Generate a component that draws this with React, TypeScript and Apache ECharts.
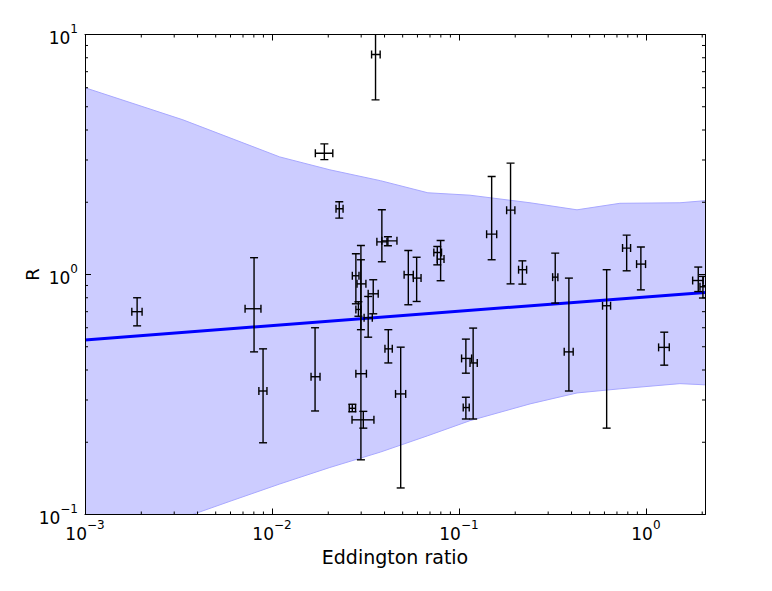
import React, { useEffect, useRef } from "react";
import * as echarts from "echarts";

// ---- data ----
const eddX = [0.0019, 0.00802, 0.00896, 0.017, 0.01906, 0.0229, 0.0358, 0.0281, 0.0299, 0.029, 0.0299, 0.0308, 0.0269, 0.0348, 0.0327, 0.0387, 0.0417, 0.0419, 0.0488, 0.0536, 0.0594, 0.0766, 0.0798, 0.1089, 0.1089, 0.1191, 0.1496, 0.1888, 0.2184, 0.3273, 0.3873, 0.6166, 0.7889, 0.9397, 1.253, 1.905, 2.018];
const eddXLo = [0.00178, 0.00718, 0.00851, 0.01618, 0.01706, 0.022, 0.0341, 0.0269, 0.0285, 0.0281, 0.0281, 0.0268, 0.0259, 0.0327, 0.0311, 0.0364, 0.0387, 0.0402, 0.0458, 0.0509, 0.057, 0.0734, 0.0766, 0.1033, 0.1054, 0.1146, 0.1406, 0.1799, 0.2084, 0.317, 0.3656, 0.5861, 0.7499, 0.8913, 1.169, 1.778, 1.946];
const eddXHi = [0.00202, 0.00873, 0.0094, 0.01807, 0.02115, 0.024, 0.0379, 0.0292, 0.0318, 0.0299, 0.032, 0.0351, 0.028, 0.037, 0.0344, 0.0412, 0.0466, 0.044, 0.0519, 0.057, 0.0627, 0.0807, 0.0832, 0.1169, 0.1135, 0.1253, 0.1592, 0.1991, 0.2301, 0.3381, 0.4083, 0.6471, 0.8279, 0.9954, 1.333, 2.024, 2.094];
const rVal = [0.7, 0.72, 0.327, 0.375, 3.2, 1.879, 8.25, 0.988, 0.914, 0.715, 0.386, 0.248, 0.277, 0.831, 0.66, 1.368, 1.381, 0.49, 0.318, 0.998, 0.966, 1.235, 1.159, 0.447, 0.279, 0.428, 1.473, 1.854, 1.047, 0.975, 0.476, 0.741, 1.288, 1.105, 0.497, 0.944, 0.889];
const rLo = [0.611, 0.476, 0.199, 0.27, 3.01, 1.718, 5.34, 0.755, 0.589, 0.67, 0.169, 0.229, 0.268, 0.686, 0.548, 1.13, 1.318, 0.428, 0.129, 0.748, 0.772, 1.097, 0.942, 0.388, 0.25, 0.25, 1.152, 0.914, 0.912, 0.76, 0.327, 0.229, 1.036, 0.863, 0.419, 0.849, 0.798];
const rHi = [0.8, 1.175, 0.49, 0.6, 3.5, 2.01, 12, 1.22, 1.152, 0.77, 1.32, 0.269, 0.288, 0.951, 0.81, 1.86, 1.436, 0.589, 0.498, 1.259, 1.18, 1.309, 1.386, 0.538, 0.308, 0.598, 2.56, 2.91, 1.14, 1.228, 0.966, 1.047, 1.459, 1.301, 0.575, 1.074, 0.982];

const bandX = [0.001, 0.00334, 0.00596, 0.011, 0.0204, 0.038, 0.0682, 0.1145, 0.24, 0.428, 0.726, 1.52, 2.07];
const bandUpper = [6.0, 4.41, 3.71, 3.09, 2.73, 2.46, 2.19, 2.14, 1.99, 1.86, 1.98, 1.99, 2.03];
const bandLower = [0.0706, 0.0968, 0.1135, 0.134, 0.157, 0.182, 0.213, 0.246, 0.289, 0.321, 0.334, 0.351, 0.347];

const fitX = [0.001, 2.07];
const fitR = [0.534, 0.842];

const xMin = 0.001;
const xMax = 2.07;
const yMin = 0.1;
const yMax = 10;

const xMinorTicks = [0.002, 0.003, 0.004, 0.005, 0.006, 0.007, 0.008, 0.009, 0.02, 0.03, 0.04, 0.05, 0.06, 0.07, 0.08, 0.09, 0.2, 0.3, 0.4, 0.5, 0.6, 0.7, 0.8, 0.9, 2];
const yMinorTicks = [0.2, 0.3, 0.4, 0.5, 0.6, 0.7, 0.8, 0.9, 2, 3, 4, 5, 6, 7, 8, 9];

const xTitle = "Eddington ratio";
const yTitle = "R";

const FONT = "DejaVu Sans";

function decadeLabel(value: number): string {
  const lg = Math.log10(value);
  const e = Math.round(lg);
  if (Math.abs(lg - e) > 1e-6) return "";
  const s = e < 0 ? "\u2212" + Math.abs(e) : String(e);
  return "{b|10}{s|" + s + "}";
}

const rich = {
  b: { fontSize: 17, lineHeight: 24, verticalAlign: "bottom", fontFamily: FONT, color: "#000" },
  s: { fontSize: 12, lineHeight: 24, verticalAlign: "top", fontFamily: FONT, color: "#000" },
};

export default function App() {
  const ref = useRef<HTMLDivElement>(null);
  useEffect(() => {
    document.body.style.margin = "0";
    if (!ref.current) return;
    const chart = echarts.init(ref.current, null, { renderer: "svg" });

    const errData = eddX.map((x, i) => [x, rVal[i], eddXLo[i], eddXHi[i], rLo[i], rHi[i]]);
    const seg = (x1: number, y1: number, x2: number, y2: number, style: any) => ({
      type: "line",
      shape: { x1, y1, x2, y2 },
      style,
    });

    const axisCommon = {
      type: "log",
      logBase: 10,
      z: 10,
      axisLine: { show: true, onZero: false, lineStyle: { color: "#000", width: 1 } },
      axisTick: { show: true, inside: true, length: 6, lineStyle: { color: "#000", width: 1 } },
      splitLine: { show: false },
      minorTick: { show: false },
      minorSplitLine: { show: false },
    };

    const option: any = {
      animation: false,
      backgroundColor: "#ffffff",
      textStyle: { fontFamily: FONT },
      grid: { left: 85, right: 67, top: 34.5, bottom: 76.5 },
      xAxis: [
        {
          ...axisCommon,
          min: xMin,
          max: xMax,
          position: "bottom",
          name: xTitle,
          nameLocation: "middle",
          nameGap: 33,
          nameMoveOverlap: false,
          nameTextStyle: { fontSize: 19, color: "#000", fontFamily: FONT },
          axisLabel: { show: true, margin: 4, formatter: decadeLabel, rich, showMinLabel: true, showMaxLabel: true },
        },
        {
          ...axisCommon,
          min: xMin,
          max: xMax,
          position: "top",
          axisLabel: { show: false },
        },
      ],
      yAxis: [
        {
          ...axisCommon,
          min: yMin,
          max: yMax,
          position: "left",
          name: yTitle,
          nameLocation: "middle",
          nameGap: 44,
          nameMoveOverlap: false,
          nameTextStyle: { fontSize: 18, color: "#000", fontFamily: FONT },
          axisLabel: { show: true, margin: 7, formatter: decadeLabel, rich },
        },
        {
          ...axisCommon,
          min: yMin,
          max: yMax,
          position: "right",
          axisLabel: { show: false },
        },
      ],
      series: [
        {
          type: "line",
          xAxisIndex: 0,
          yAxisIndex: 0,
          data: bandX.map((x, i) => [x, bandUpper[i]]),
          symbol: "none",
          silent: true,
          clip: true,
          z: 1,
          lineStyle: { color: "#a8a8ff", width: 1 },
          areaStyle: { color: "#ccccff", opacity: 1, origin: "start" },
        },
        {
          type: "line",
          xAxisIndex: 0,
          yAxisIndex: 0,
          data: bandX.map((x, i) => [x, bandLower[i]]),
          symbol: "none",
          silent: true,
          clip: true,
          z: 2,
          lineStyle: { color: "#a8a8ff", width: 1 },
          areaStyle: { color: "#ffffff", opacity: 1, origin: "start" },
        },
        {
          type: "line",
          xAxisIndex: 0,
          yAxisIndex: 0,
          data: fitX.map((x, i) => [x, fitR[i]]),
          symbol: "none",
          silent: true,
          clip: true,
          z: 3,
          lineStyle: { color: "#0000ff", width: 3 },
        },
        {
          type: "custom",
          xAxisIndex: 0,
          yAxisIndex: 0,
          data: errData,
          encode: { x: 0, y: 1 },
          clip: true,
          silent: true,
          z: 4,
          renderItem: (params: any, api: any) => {
            const x = api.value(0);
            const y = api.value(1);
            const c = api.coord([x, y]);
            const l = api.coord([api.value(2), y]);
            const r = api.coord([api.value(3), y]);
            const b = api.coord([x, api.value(4)]);
            const t = api.coord([x, api.value(5)]);
            const cap = 4;
            const st = { stroke: "#000", lineWidth: 1.4 };
            return {
              type: "group",
              children: [
                seg(l[0], c[1], r[0], c[1], st),
                seg(l[0], c[1] - cap, l[0], c[1] + cap, st),
                seg(r[0], c[1] - cap, r[0], c[1] + cap, st),
                seg(c[0], t[1], c[0], b[1], st),
                seg(c[0] - cap, t[1], c[0] + cap, t[1], st),
                seg(c[0] - cap, b[1], c[0] + cap, b[1], st),
              ],
            };
          },
        },
        {
          type: "custom",
          xAxisIndex: 0,
          yAxisIndex: 0,
          data: xMinorTicks.map((v) => [v, 1]),
          encode: { x: 0, y: 1 },
          silent: true,
          z: 10,
          renderItem: (params: any, api: any) => {
            const p = api.coord([api.value(0), 1]);
            const cs = params.coordSys;
            const bottom = cs.y + cs.height;
            const top = cs.y;
            const st = { stroke: "#000", lineWidth: 1 };
            return {
              type: "group",
              children: [seg(p[0], bottom, p[0], bottom - 3, st), seg(p[0], top, p[0], top + 3, st)],
            };
          },
        },
        {
          type: "custom",
          xAxisIndex: 0,
          yAxisIndex: 0,
          data: yMinorTicks.map((v) => [0.01, v]),
          encode: { x: 0, y: 1 },
          silent: true,
          z: 10,
          renderItem: (params: any, api: any) => {
            const p = api.coord([0.01, api.value(1)]);
            const cs = params.coordSys;
            const left = cs.x;
            const right = cs.x + cs.width;
            const st = { stroke: "#000", lineWidth: 1 };
            return {
              type: "group",
              children: [seg(left, p[1], left + 3, p[1], st), seg(right, p[1], right - 3, p[1], st)],
            };
          },
        },
      ],
    };

    chart.setOption(option);
    return () => chart.dispose();
  }, []);

  return <div ref={ref} style={{ width: 772, height: 591 }} />;
}
